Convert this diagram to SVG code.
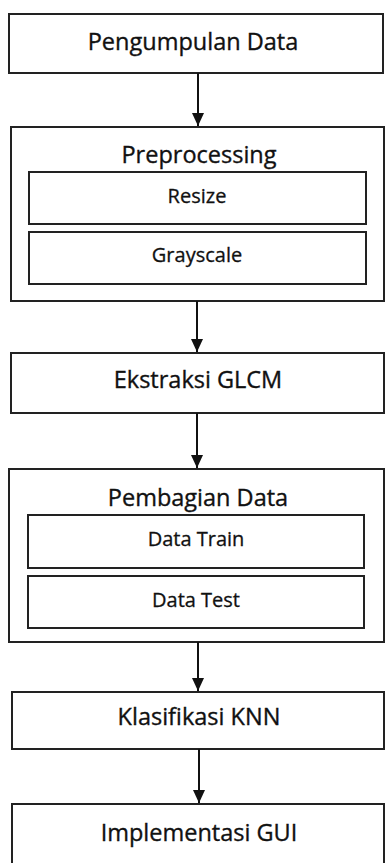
<svg xmlns="http://www.w3.org/2000/svg" width="385" height="863" viewBox="0 0 385 863">
<defs>
<style>
.box{fill:#fff;stroke:#222;stroke-width:2}
.t{font-family:"Open Sans","Noto Sans",sans-serif;font-size:23.5px;fill:#111;stroke:#111;stroke-width:0.35;text-anchor:middle}
.s{font-family:"Open Sans","Noto Sans",sans-serif;font-size:20px;fill:#111;stroke:#111;stroke-width:0.3;text-anchor:middle}
.c{stroke:#111;stroke-width:2;fill:none;marker-end:url(#ah)}
</style>
<marker id="ah" markerWidth="13" markerHeight="12" refX="13" refY="6" orient="auto" markerUnits="userSpaceOnUse">
<path d="M0,0 L13,6 L0,12 Z" fill="#111"/>
</marker>
</defs>
<rect width="385" height="863" fill="#fff"/>
<g id="n1"><rect class="box" x="9" y="14" width="374" height="59"/><text class="t" x="193" y="50">Pengumpulan Data</text></g>
<g id="n2"><rect class="box" x="11" y="127" width="373" height="174"/><text class="t" x="199" y="163">Preprocessing</text>
<g id="n2a"><rect class="box" x="29" y="172" width="337" height="52"/><text class="s" x="197" y="203">Resize</text></g>
<g id="n2b"><rect class="box" x="29" y="232" width="337" height="52"/><text class="s" x="197" y="262">Grayscale</text></g></g>
<g id="n3"><rect class="box" x="11" y="353" width="373" height="60"/><text class="t" x="198" y="388">Ekstraksi GLCM</text></g>
<g id="n4"><rect class="box" x="9" y="469" width="375" height="173"/><text class="t" x="198" y="506">Pembagian Data</text>
<g id="n4a"><rect class="box" x="28" y="515" width="336" height="53"/><text class="s" x="196" y="546">Data Train</text></g>
<g id="n4b"><rect class="box" x="28" y="576" width="336" height="52"/><text class="s" x="196" y="607">Data Test</text></g></g>
<g id="n5"><rect class="box" x="12" y="692" width="372" height="57"/><text class="t" x="199" y="725">Klasifikasi KNN</text></g>
<g id="n6"><rect class="box" x="12" y="804" width="372" height="80"/><text class="t" x="199" y="841">Implementasi GUI</text></g>
<g id="connectors">
<line class="c" x1="198" y1="73" x2="198" y2="126"/>
<line class="c" x1="197" y1="301" x2="197" y2="352"/>
<line class="c" x1="197" y1="413" x2="197" y2="468"/>
<line class="c" x1="198" y1="642" x2="198" y2="691"/>
<line class="c" x1="199" y1="749" x2="199" y2="803"/>
</g>
</svg>
